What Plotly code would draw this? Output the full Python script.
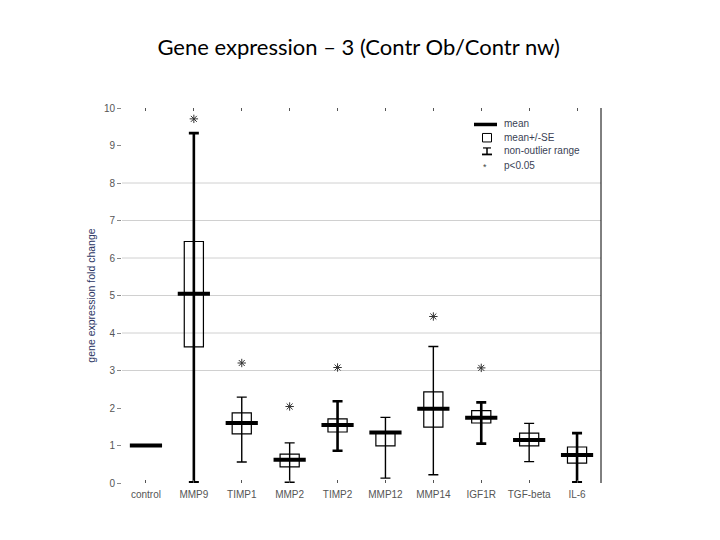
import plotly.graph_objects as go

categories = ["control", "MMP9", "TIMP1", "MMP2", "TIMP2", "MMP12", "MMP14", "IGF1R", "TGF-beta", "IL-6"]
mean_vals = [1.0, 5.05, 1.6, 0.62, 1.55, 1.35, 1.98, 1.74, 1.15, 0.75]
se_low = [None, 3.63, 1.31, 0.43, 1.36, 0.99, 1.49, 1.60, 0.99, 0.53]
se_high = [None, 6.44, 1.87, 0.77, 1.71, 1.36, 2.43, 1.93, 1.33, 0.96]
range_low = [None, 0.02, 0.56, 0.02, 0.86, 0.13, 0.22, 1.05, 0.57, 0.02]
range_high = [None, 9.33, 2.29, 1.07, 2.18, 1.75, 3.64, 2.15, 1.59, 1.33]
bold_whisker = [False, True, False, False, True, False, False, True, False, True]
star_cats = ["MMP9", "TIMP1", "MMP2", "TIMP2", "MMP14", "IGF1R"]
star_vals = [9.71, 3.2, 2.04, 3.08, 4.44, 3.07]
y_ticks = [0, 1, 2, 3, 4, 5, 6, 7, 8, 9, 10]
grid_values = [3, 4, 5, 6, 7, 8]

fig = go.Figure()

# SE boxes
box_x = [c for c, lo in zip(categories, se_low) if lo is not None]
box_base = [lo for lo in se_low if lo is not None]
box_h = [hi - lo for lo, hi in zip(se_low, se_high) if lo is not None]
fig.add_trace(go.Bar(x=box_x, y=box_h, base=box_base, width=0.4,
                     marker=dict(color="rgba(0,0,0,0)", line=dict(color="black", width=1.2)),
                     showlegend=False, hoverinfo="skip"))

# whiskers
for bold in (False, True):
    xs, ys, up, dn = [], [], [], []
    for c, m, lo, hi, b in zip(categories, mean_vals, range_low, range_high, bold_whisker):
        if lo is None or b != bold:
            continue
        xs.append(c); ys.append(m); up.append(hi - m); dn.append(m - lo)
    fig.add_trace(go.Scatter(x=xs, y=ys, mode="markers",
                             marker=dict(size=1, color="rgba(0,0,0,0)"),
                             error_y=dict(type="data", symmetric=False, array=up, arrayminus=dn,
                                          color="black", thickness=2.6 if bold else 1.4, width=5),
                             showlegend=False, hoverinfo="skip"))

# means
fig.add_trace(go.Scatter(x=categories, y=mean_vals, mode="markers",
                         marker=dict(symbol="line-ew-open", size=23, color="black",
                                     line=dict(color="black", width=4)),
                         showlegend=False))

# stars
fig.add_trace(go.Scatter(x=star_cats, y=star_vals, mode="markers",
                         marker=dict(symbol="asterisk-open", size=7, color="#333",
                                     line=dict(color="#333", width=1)),
                         showlegend=False))

# gridlines
for g in grid_values:
    fig.add_shape(type="line", xref="paper", yref="y", x0=0, x1=1, y0=g, y1=g,
                  line=dict(color="#d0d0d0", width=1), layer="below")

# right frame line
fig.add_shape(type="line", xref="paper", yref="paper", x0=1, x1=1, y0=0, y1=1,
              line=dict(color="black", width=1))

# legend (manual)
lg_font = dict(family="Liberation Sans Narrow, Liberation Sans, Arial", size=10, color="#3a3f55")
def px(xp):
    return (xp - 122) / (601 - 122)
def py(yp):
    return (483.5 - yp) / (483.5 - 108)
fig.add_shape(type="line", xref="paper", yref="paper", x0=px(474), x1=px(497), y0=py(124.5), y1=py(124.5),
              line=dict(color="black", width=3.5))
fig.add_shape(type="rect", xref="paper", yref="paper", x0=px(482.5), x1=px(491.5), y0=py(142), y1=py(133.5),
              line=dict(color="black", width=1))
fig.add_shape(type="line", xref="paper", yref="paper", x0=px(487), x1=px(487), y0=py(154.5), y1=py(148),
              line=dict(color="black", width=1.5))
fig.add_shape(type="line", xref="paper", yref="paper", x0=px(483), x1=px(491), y0=py(148), y1=py(148),
              line=dict(color="black", width=1.2))
fig.add_shape(type="line", xref="paper", yref="paper", x0=px(482), x1=px(492), y0=py(154.5), y1=py(154.5),
              line=dict(color="black", width=1.8))
for txt, yy in [("mean", 124), ("mean+/-SE", 137.5), ("non-outlier range", 151), ("p<0.05", 166)]:
    fig.add_annotation(text=txt, xref="paper", yref="paper", x=px(502), y=py(yy), xanchor="left",
                       yanchor="middle", showarrow=False, font=lg_font)
fig.add_annotation(text="*", xref="paper", yref="paper", x=px(484.5), y=py(167), xanchor="center",
                   yanchor="middle", showarrow=False, font=dict(family="Liberation Sans", size=9, color="#444"))

fig.update_layout(
    width=720, height=540,
    margin=dict(l=114, r=127, t=100, b=64.5),
    paper_bgcolor="white", plot_bgcolor="white",
    barmode="overlay",
    title=dict(text="Gene expression – 3 (Contr Ob/Contr nw)", x=0.487, xanchor="center", y=0.928,
               yanchor="middle", font=dict(family="Lato, Open Sans", size=22, color="black")),
    xaxis=dict(type="category", categoryorder="array", categoryarray=categories, range=[-0.5, 9.5],
               showgrid=False, showline=False, zeroline=False, ticks="inside", ticklen=3,
               tickcolor="#555", mirror="ticks", ticklabelstandoff=4,
               tickfont=dict(family="Liberation Sans Narrow, Liberation Sans, Arial", size=10, color="#555")),
    yaxis=dict(range=[0, 10], tickvals=y_ticks, showgrid=False, zeroline=False, showline=False,
               ticks="outside", ticklen=4, tickcolor="#888",
               tickfont=dict(family="Liberation Sans Narrow, Liberation Sans, Arial", size=10, color="#555"),
               title=dict(text="gene expression fold change", standoff=6,
                          font=dict(family="Liberation Sans Narrow, Liberation Sans, Arial", size=10.5,
                                    color="#2b3563"))),
    showlegend=False,
)

fig.write_html("out.html")
